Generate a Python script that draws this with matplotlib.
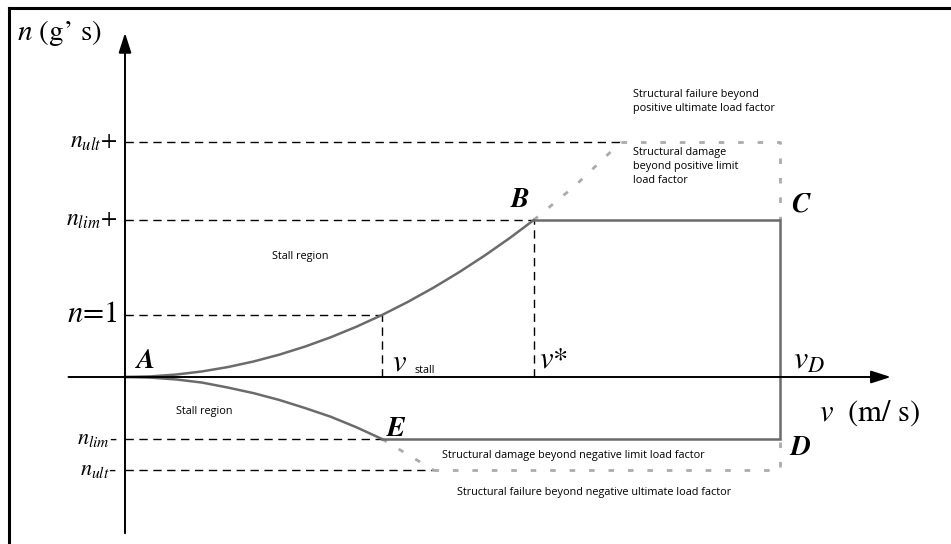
import matplotlib
matplotlib.use("Agg")
import matplotlib.pyplot as plt
from matplotlib.lines import Line2D

matplotlib.rcParams['mathtext.fontset'] = 'stix'
matplotlib.rcParams['font.family'] = 'STIXGeneral'

# key speeds (v_stall = 1) and load factors (n = 1 at stall)
v_stall = 1.0
v_star = 1.59
v_D = 2.55
n_one = 1.0
n_lim_pos = 2.53
n_ult_pos = 3.79
n_lim_neg = -1.0
n_ult_neg = -1.5

# stall lines
v_up = [0.0, 0.1, 0.2, 0.3, 0.4, 0.5, 0.6, 0.7, 0.8, 0.9, 1.0,
        1.1, 1.2, 1.3, 1.4, 1.5, 1.59]
n_up = [0.0, 0.01, 0.04, 0.09, 0.16, 0.25, 0.36, 0.49, 0.64, 0.81, 1.0,
        1.21, 1.44, 1.69, 1.96, 2.25, 2.53]
v_up_ext = [1.59, 1.75, 1.93]
n_up_ext = [2.53, 3.08, 3.79]
v_lo = [0.0, 0.1, 0.2, 0.3, 0.4, 0.5, 0.6, 0.7, 0.8, 0.9, 1.0]
n_lo = [0.0, -0.01, -0.04, -0.09, -0.17, -0.26, -0.37, -0.5, -0.64, -0.81, -1.0]
v_lo_ext = [1.0, 1.2]
n_lo_ext = [-1.0, -1.5]

n_labels = [r'$n_{ult}$+', r'$n_{lim}$+', r'$n$=1', r'$n_{lim}$-', r'$n_{ult}$-']
n_values = [n_ult_pos, n_lim_pos, n_one, n_lim_neg, n_ult_neg]
n_sizes = [17, 17, 22, 16, 16]

SOLID = '#6b6b6b'
DOT = '#ababab'
SANS = 'Open Sans'
SMALL = 7.8

fig = plt.figure(figsize=(9.51, 5.44), dpi=100)
ax = fig.add_axes([0, 0, 1, 1])
ax.set_xlim(-125 / 257, (951 - 125) / 257)
ax.set_ylim(-167 / 62, 377 / 62)
ax.axis('off')

# frame (left and top only)
fig.add_artist(Line2D([8.5 / 951, 8.5 / 951], [0, 1 - 7.5 / 544], transform=fig.transFigure, color='k', lw=2.2))
fig.add_artist(Line2D([8.5 / 951, 1], [1 - 7.5 / 544, 1 - 7.5 / 544], transform=fig.transFigure, color='k', lw=2.2))

# axes with arrows
arr = dict(arrowstyle='-|>,head_length=1.0,head_width=0.32', color='k', lw=1.4,
           shrinkA=0, shrinkB=0, mutation_scale=12)
ax.annotate('', xy=(2.98, 0), xytext=(-0.22, 0), arrowprops=arr)
ax.annotate('', xy=(0, 5.55), xytext=(0, -2.52), arrowprops=arr)

# dashed guide lines
dash = dict(color='k', lw=1.0, ls=(0, (6, 4)))
ax.plot([0, v_up_ext[-1]], [n_ult_pos, n_ult_pos], **dash)
ax.plot([0, v_star], [n_lim_pos, n_lim_pos], **dash)
ax.plot([0, v_stall], [n_one, n_one], **dash)
ax.plot([v_stall, v_stall], [0, n_one], **dash)
ax.plot([v_star, v_star], [0, n_lim_pos], **dash)
ax.plot([0, v_stall], [n_lim_neg, n_lim_neg], **dash)
ax.plot([0, v_lo_ext[-1]], [n_ult_neg, n_ult_neg], **dash)

# dotted ultimate boundaries
dot = dict(color=DOT, lw=2.0, ls=(0, (2, 5)))
ax.plot(v_up_ext, n_up_ext, **dot)
ax.plot([v_up_ext[-1], v_D, v_D], [n_ult_pos, n_ult_pos, n_lim_pos], **dot)
ax.plot(v_lo_ext, n_lo_ext, **dot)
ax.plot([v_lo_ext[-1], v_D, v_D], [n_ult_neg, n_ult_neg, n_lim_neg], **dot)

# flight envelope
ax.plot(v_up, n_up, color=SOLID, lw=1.8)
ax.plot(v_lo, n_lo, color=SOLID, lw=1.8)
ax.plot([v_star, v_D, v_D, v_stall], [n_lim_pos, n_lim_pos, n_lim_neg, n_lim_neg],
        color=SOLID, lw=1.8, solid_joinstyle='miter')

# load factor labels
for lab, val, fs in zip(n_labels, n_values, n_sizes):
    ax.text(-0.03, val, lab, ha='right', va='center', fontsize=fs)
ax.text(-0.42, 5.55, r"$n$ (g’ s)", ha='left', va='center', fontsize=21)

# corner letters
for lab, x, y in [('A', 0.045, 0.26), ('B', 1.5, 2.86), ('C', 2.59, 2.78),
                  ('D', 2.59, -1.14), ('E', 1.02, -0.84)]:
    ax.text(x, y, lab, ha='left', va='center', fontsize=20, style='italic', weight='bold')

# speed labels
ax.text(1.04, 0.22, r'$v$', ha='left', va='center', fontsize=22)
ax.text(1.125, 0.1, 'stall', ha='left', va='center', fontsize=SMALL, family=SANS)
ax.text(1.61, 0.26, r'$v$*', ha='left', va='center', fontsize=22)
ax.text(2.6, 0.26, r'$v_D$', ha='left', va='center', fontsize=23)
ax.text(2.7, -0.58, r'$v$  (m/ s)', ha='left', va='center', fontsize=22)

# region notes
ax.text(0.68, 1.94, 'Stall region', ha='center', va='center', fontsize=SMALL, family=SANS)
ax.text(0.31, -0.55, 'Stall region', ha='center', va='center', fontsize=SMALL, family=SANS)
ax.text(1.975, 4.64, 'Structural failure beyond\npositive ultimate load factor',
        ha='left', va='top', fontsize=SMALL, family=SANS, linespacing=1.35)
ax.text(1.975, 3.71, 'Structural damage\nbeyond positive limit\nload factor',
        ha='left', va='top', fontsize=SMALL, family=SANS, linespacing=1.35)
ax.text(1.235, -1.26, 'Structural damage beyond negative limit load factor',
        ha='left', va='center', fontsize=SMALL, family=SANS)
ax.text(1.29, -1.86, 'Structural failure beyond negative ultimate load factor',
        ha='left', va='center', fontsize=SMALL, family=SANS)

fig.savefig('out.png', dpi=100)
